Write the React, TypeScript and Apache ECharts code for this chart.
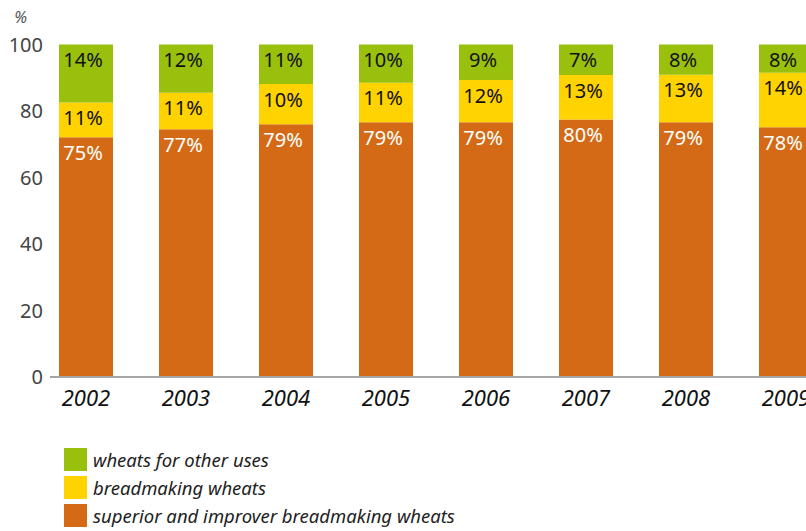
import React, { useEffect, useRef } from "react";
import * as echarts from "echarts";

const years = ["2002", "2003", "2004", "2005", "2006", "2007", "2008", "2009"];
// bar heights as drawn (share of total, %)
const superiorHeights = [72.1, 74.5, 76.0, 76.6, 76.6, 77.4, 76.6, 75.1];
const breadmakingHeights = [10.4, 11.0, 12.1, 11.9, 12.7, 13.4, 14.3, 16.4];
const otherHeights = [17.5, 14.5, 11.9, 11.5, 10.7, 9.2, 9.1, 8.5];
// printed labels
const superiorLabels = ["75%", "77%", "79%", "79%", "79%", "80%", "79%", "78%"];
const breadmakingLabels = ["11%", "11%", "10%", "11%", "12%", "13%", "13%", "14%"];
const otherLabels = ["14%", "12%", "11%", "10%", "9%", "7%", "8%", "8%"];
const yTicks = [0, 20, 40, 60, 80, 100];

const seriesNames = [
  "superior and improver breadmaking wheats",
  "breadmaking wheats",
  "wheats for other uses",
];

const FONT = "'Noto Sans', 'DejaVu Sans', sans-serif";

export default function App() {
  const ref = useRef<HTMLDivElement>(null);
  useEffect(() => {
    if (!ref.current) return;
    const chart = echarts.init(ref.current, undefined, { renderer: "svg" });
    const mkLabel = (labels: string[], color: string) => ({
      show: true,
      position: "insideTop",
      distance: 5,
      offset: [-3, 0],
      color,
      fontSize: 20,
      fontFamily: FONT,
      formatter: (p: any) => labels[p.dataIndex],
    });
    chart.setOption({
      animation: false,
      textStyle: { fontFamily: FONT },
      grid: {
        left: 36,
        width: 800,
        top: 44.5,
        height: 332,
        containLabel: false,
        outerBoundsMode: "none",
      },
      graphic: [
        {
          type: "line",
          shape: { x1: 50, y1: 377, x2: 806, y2: 377 },
          style: { stroke: "#a6a6a6", lineWidth: 2 },
          z: 10,
        },
      ],
      xAxis: {
        type: "category",
        data: years,
        axisLine: { show: false },
        axisTick: { show: false },
        axisLabel: {
          color: "#111",
          fontSize: 22,
          fontStyle: "italic",
          fontFamily: FONT,
          margin: 9,
        },
      },
      yAxis: {
        type: "value",
        min: 0,
        max: 100,
        interval: 20,
        name: "%",
        nameLocation: "end",
        nameGap: 20,
        nameTextStyle: {
          color: "#555",
          fontSize: 16,
          fontStyle: "italic",
          fontFamily: FONT,
          align: "right",
          padding: [0, 9, 0, 0],
        },
        axisLine: { show: false },
        axisTick: { show: false },
        splitLine: { show: false },
        axisLabel: {
          color: "#444",
          fontSize: 20,
          fontFamily: FONT,
          margin: -7,
          formatter: (v: number) => (yTicks.includes(v) ? String(v) : ""),
        },
      },
      legend: {
        orient: "vertical",
        left: 64,
        top: 448,
        height: 150,
        padding: 0,
        itemWidth: 23,
        itemHeight: 23,
        itemGap: 5,
        icon: "rect",
        data: [seriesNames[2], seriesNames[1], seriesNames[0]],
        textStyle: {
          color: "#222",
          fontSize: 18.5,
          fontStyle: "italic",
          fontFamily: FONT,
          padding: [0, 0, 0, 1],
        },
      },
      series: [
        {
          name: seriesNames[0],
          type: "bar",
          stack: "total",
          barWidth: 54,
          data: superiorHeights,
          itemStyle: { color: "#d56a16" },
          label: mkLabel(superiorLabels, "#ffffff"),
        },
        {
          name: seriesNames[1],
          type: "bar",
          stack: "total",
          barWidth: 54,
          data: breadmakingHeights,
          itemStyle: { color: "#ffd300" },
          label: mkLabel(breadmakingLabels, "#111111"),
        },
        {
          name: seriesNames[2],
          type: "bar",
          stack: "total",
          barWidth: 54,
          data: otherHeights,
          itemStyle: { color: "#9ac00e" },
          label: mkLabel(otherLabels, "#111111"),
        },
      ],
    });
    return () => chart.dispose();
  }, []);
  return (
    <div
      ref={ref}
      style={{ position: "absolute", left: 0, top: 0, width: 806, height: 531 }}
    />
  );
}
